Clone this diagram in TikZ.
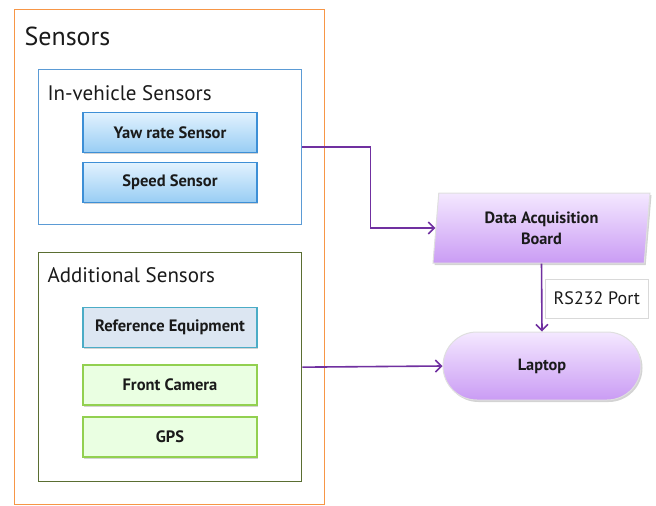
\documentclass[tikz,border=0pt]{standalone}
\usepackage{fontspec}
\setmainfont{PT Sans}
\usetikzlibrary{arrows.meta,positioning,shapes.geometric,shapes.misc,shadows}
\definecolor{SensOrange}{HTML}{F79646}
\definecolor{CarBlue}{HTML}{5B9BD5}
\definecolor{AddOlive}{HTML}{5A6E32}
\definecolor{BoxBlue}{HTML}{3D8FD6}
\definecolor{BoxBlueTop}{HTML}{E2F2FE}
\definecolor{BoxBlueBot}{HTML}{98CDF4}
\definecolor{RefFill}{HTML}{DCE6F2}
\definecolor{RefLine}{HTML}{4BACC6}
\definecolor{CamFill}{HTML}{EAFFE2}
\definecolor{CamLine}{HTML}{92D050}
\definecolor{LinkPurple}{HTML}{7030A0}
\definecolor{PurpTop}{HTML}{F4E8FF}
\definecolor{PurpBot}{HTML}{CA9CF4}
\definecolor{Ink}{HTML}{1A1A1A}
\tikzset{
  group/.style={draw,line width=1.3pt,anchor=north west,inner sep=0pt},
  head/.style={anchor=west,text=Ink},
  sensbox/.style={minimum width=174,minimum height=40,line width=1.2pt,inner sep=0pt,
    font=\fontsize{16.5}{18}\selectfont\bfseries,text=Ink,
    drop shadow={shadow xshift=1.2pt,shadow yshift=-1.5pt,opacity=0.35}},
  bluebox/.style={sensbox,draw=BoxBlue,top color=BoxBlueTop,bottom color=BoxBlueBot},
  refbox/.style={sensbox,draw=RefLine,fill=RefFill},
  greenbox/.style={sensbox,draw=CamLine,fill=CamFill},
  purp/.style={draw=gray!25,line width=1pt,top color=PurpTop,bottom color=PurpBot,
    font=\fontsize{16.3}{19}\selectfont\bfseries,text=Ink,align=center,inner sep=0pt,
    drop shadow={shadow xshift=1.5pt,shadow yshift=-2pt,opacity=0.35}},
  flow/.style={draw=LinkPurple,line width=1.6pt,-{Straight Barb[length=6pt,width=12pt]}}
}
\begin{document}
\begin{tikzpicture}[x=1pt,y=-1pt]
\useasboundingbox (0,0) rectangle (656,506);
\node[group,draw=SensOrange,minimum width=310,minimum height=495] (sensors) at (14,9) {};
\node[head,font=\fontsize{26}{28}\selectfont] (sensorshead) at (21,36) {Sensors};
\node[group,draw=CarBlue,minimum width=263,minimum height=155] (invehicle) at (38,69) {};
\node[head,font=\fontsize{21}{23}\selectfont] (invehiclehead) at (44,93) {In-vehicle Sensors};
\node[group,draw=AddOlive,minimum width=263,minimum height=229] (additional) at (38,252) {};
\node[head,font=\fontsize{21}{23}\selectfont] (additionalhead) at (44,275) {Additional Sensors};
\foreach \n/\y/\sty/\lab in {
  yaw/132.5/bluebox/{Yaw rate Sensor},
  speed/182.5/bluebox/{Speed Sensor},
  refeq/327.5/refbox/{Reference Equipment},
  camera/385/greenbox/{Front Camera},
  gps/437/greenbox/{GPS}}
{
  \node[\sty] (\n) at (170,\y) {\lab};
}
\node[purp,trapezium,trapezium left angle=80,trapezium right angle=100,
  trapezium stretches body,minimum width=217,minimum height=70] (daq) at (541.5,228)
  {Data Acquisition\\[2pt]Board};
\node[purp,rounded rectangle,minimum width=198,minimum height=68] (laptop) at (542,366) {Laptop};
\draw[flow] (invehicle.east) -- ++(68,0) |- (daq.west);
\draw[flow] (additional.east) -- (laptop.west);
\draw[flow] (daq.south) -- (laptop.north);
\node[draw=gray!30,fill=white,line width=0.8pt,minimum width=103,minimum height=39,
  font=\fontsize{18}{20}\selectfont,text=Ink,anchor=west] (rsport) at (545,298.5) {RS232 Port};
\end{tikzpicture}
\end{document}
